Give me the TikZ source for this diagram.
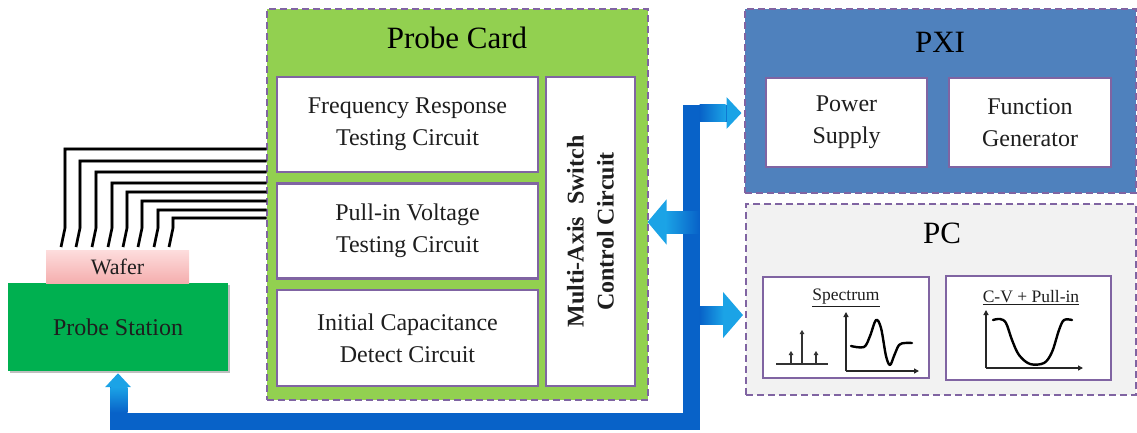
\documentclass[tikz,border=0pt]{standalone}
\usepackage{fontspec}
\setmainfont{Liberation Serif}
\usetikzlibrary{arrows.meta,calc}

\definecolor{cardgreen}{HTML}{92D050}
\definecolor{framepurple}{HTML}{8064A2}
\definecolor{pxiblue}{HTML}{4F81BD}
\definecolor{pcgray}{HTML}{F2F2F2}
\definecolor{stationgreen}{HTML}{00B050}
\definecolor{waferlight}{HTML}{FDDDDD}
\definecolor{waferpink}{HTML}{F5AEAE}
\definecolor{busdark}{HTML}{0862C8}
\definecolor{buslight}{HTML}{1BA3E6}
\definecolor{inkgray}{HTML}{1E1E1E}

\tikzset{
  group/.style={draw=framepurple, line width=2pt, dash pattern=on 7pt off 4pt,
    inner sep=0pt, outer sep=0pt},
  block/.style={draw=framepurple, fill=white, line width=2.5pt, inner sep=0pt,
    outer sep=0pt, align=center, text=inkgray,
    font=\fontsize{24}{32}\selectfont},
  title/.style={text=black, inner sep=0pt, font=\fontsize{31}{36}\selectfont},
  wire/.style={line width=2.6pt, black, line join=miter},
  wireshadow/.style={line width=2.6pt, black!35, line join=miter},
  bus/.style={draw=busdark, line width=17pt, line join=miter, line cap=butt},
  axis/.style={line width=1.4pt, black!85, -{Triangle[length=5pt,width=5pt]}},
  trace/.style={line width=2.4pt, black, line cap=round, line join=round}
}

\begin{document}
\begin{tikzpicture}[x=1pt, y=-1pt]
\useasboundingbox (0,0) rectangle (1137,432);

% ---------------- Probe card ----------------
\node[group, fill=cardgreen, minimum width=381pt, minimum height=391pt]
  (card) at (457,204) {};
\node[title] (cardtitle) at (457,38) {Probe Card};
\node[block, minimum width=261pt, minimum height=95pt] (freq) at (407.5,124.5)
  {Frequency Response\\Testing Circuit};
\node[block, minimum width=261pt, minimum height=95pt] (pullin) at (407.5,231)
  {Pull-in Voltage\\Testing Circuit};
\node[block, minimum width=261pt, minimum height=96pt] (initcap) at (407.5,338)
  {Initial Capacitance\\Detect Circuit};
\node[block, minimum width=89pt, minimum height=309pt] (switch) at (590.5,231.5) {};
\node[rotate=90, align=center, text=inkgray, inner sep=0pt,
  font=\fontsize{24}{30}\selectfont\bfseries] (switchtext) at (switch.center)
  {Multi-Axis\ \ Switch\\Control Circuit};

% ---------------- PXI ----------------
\node[group, fill=pxiblue, minimum width=391pt, minimum height=184pt]
  (pxi) at (940,101) {};
\node[title] (pxititle) at (940,42) {PXI};
\node[block, minimum width=161pt, minimum height=89pt] (psu) at (846.5,122.5)
  {Power\\Supply};
\node[block, minimum width=162pt, minimum height=89pt] (fgen) at (1030,122.5)
  {Function\\Generator};

% ---------------- PC ----------------
\node[group, fill=pcgray, minimum width=390pt, minimum height=191pt]
  (pc) at (941,299.5) {};
\node[title] (pctitle) at (942,233.5) {PC};
\node[block, minimum width=166pt, minimum height=101pt] (spec) at (846,327.5) {};
\node[block, minimum width=165pt, minimum height=104pt] (cv) at (1028.5,328) {};
\node[inner sep=0pt, text=inkgray, font=\fontsize{17.5}{20}\selectfont]
  (spectext) at (846,298) {\underline{Spectrum}};
\node[inner sep=0pt, text=inkgray, font=\fontsize{17.5}{20}\selectfont]
  (cvtext) at (1031,298) {\underline{C-V + Pull-in}};

% spectrum icon: line spectrum
\draw[line width=1.3pt, black!80] (776,364) -- (828,364);
\foreach \sx/\sy in {791/351, 802/330, 816/351}
  \draw[line width=1.3pt, black!80, -{Triangle[length=4pt,width=4.5pt]}]
    (\sx,364) -- (\sx,\sy);
% spectrum icon: response curve
\draw[axis] (846,371) -- (846,312);
\draw[axis] (846,371) -- (919,371);
\draw[trace] plot[smooth, tension=0.55] coordinates
  {(851,346) (864,347) (870,336) (876,320) (881,328) (886,356) (890,365)
   (894,356) (899,345) (905,343) (912,343)};

% C-V icon
\draw[axis] (986,368) -- (986,310);
\draw[axis] (986,368) -- (1083,368);
\draw[trace] plot[smooth, tension=0.55] coordinates
  {(993,320) (1000,319) (1006,323) (1012,340) (1019,355) (1030,364)
   (1044,363) (1052,352) (1059,330) (1064,320) (1072,320)};

% ---------------- Probe station and wafer ----------------
\node[fill=black!25, minimum width=220pt, minimum height=88pt, inner sep=0pt]
  (stationshadow) at (119.5,328.5) {};
\node[fill=stationgreen, minimum width=220pt, minimum height=88pt, inner sep=0pt,
  text=inkgray, font=\fontsize{24}{28}\selectfont] (station) at (118,327)
  {Probe Station};
\node[top color=waferlight, bottom color=waferpink, minimum width=143pt,
  minimum height=33pt, inner sep=0pt, text=inkgray,
  font=\fontsize{22}{26}\selectfont] (wafer) at (117.5,266.5) {Wafer};

% probe wires from the card down to the wafer
\foreach \wy/\wx [count=\i] in {149/65, 161/80, 172/96, 183/112,
                                192/127, 201/142, 210/158, 218/173} {
  \coordinate (w\i) at (card.west |- 0,\wy);
  \coordinate (b\i) at (\wx,\wy);
  \coordinate (d\i) at (\wx,228);
  \coordinate (t\i) at (\wx-4,247);
  \draw[wireshadow, xshift=1.6pt, yshift=-1.6pt] (w\i) -- (b\i) -- (d\i) -- (t\i);
}
\foreach \i in {1,...,8}
  \draw[wire] (w\i) -- (b\i) -- (d\i) -- (t\i);

% ---------------- Control bus ----------------
\coordinate (busTop) at (691,113);
\coordinate (busBot) at (691,421);
\coordinate (busL) at (699,222);
\coordinate (busR) at (691,315);

\draw[bus, {Triangle[length=14pt,width=25pt,color=buslight]}-{Triangle[length=15pt,width=31pt,color=buslight]},
  shorten >=3pt, shorten <=2pt]
  (station.south) |- (busBot) -- (busTop) -- (pxi.west |- busTop);
\draw[bus, line width=22pt, -{Triangle[length=19pt,width=44pt,color=buslight]}]
  (busL) -- (card.east |- busL);
\draw[bus, line width=18pt, -{Triangle[length=20pt,width=45pt,color=buslight]},
  shorten >=3pt]
  (busR) -- (pc.west |- busR);

% lighter ends of the shafts next to each head
\shade[left color=busdark, right color=buslight] (699.5,104.5) rectangle (725.5,121.5);
\shade[left color=busdark, right color=buslight] (699.5,306) rectangle (723.5,324);
\shade[left color=buslight, right color=busdark] (665.5,211) rectangle (699,233);
\shade[top color=buslight, bottom color=busdark] (110.5,387) rectangle (127.5,412.5);
\end{tikzpicture}
\end{document}
